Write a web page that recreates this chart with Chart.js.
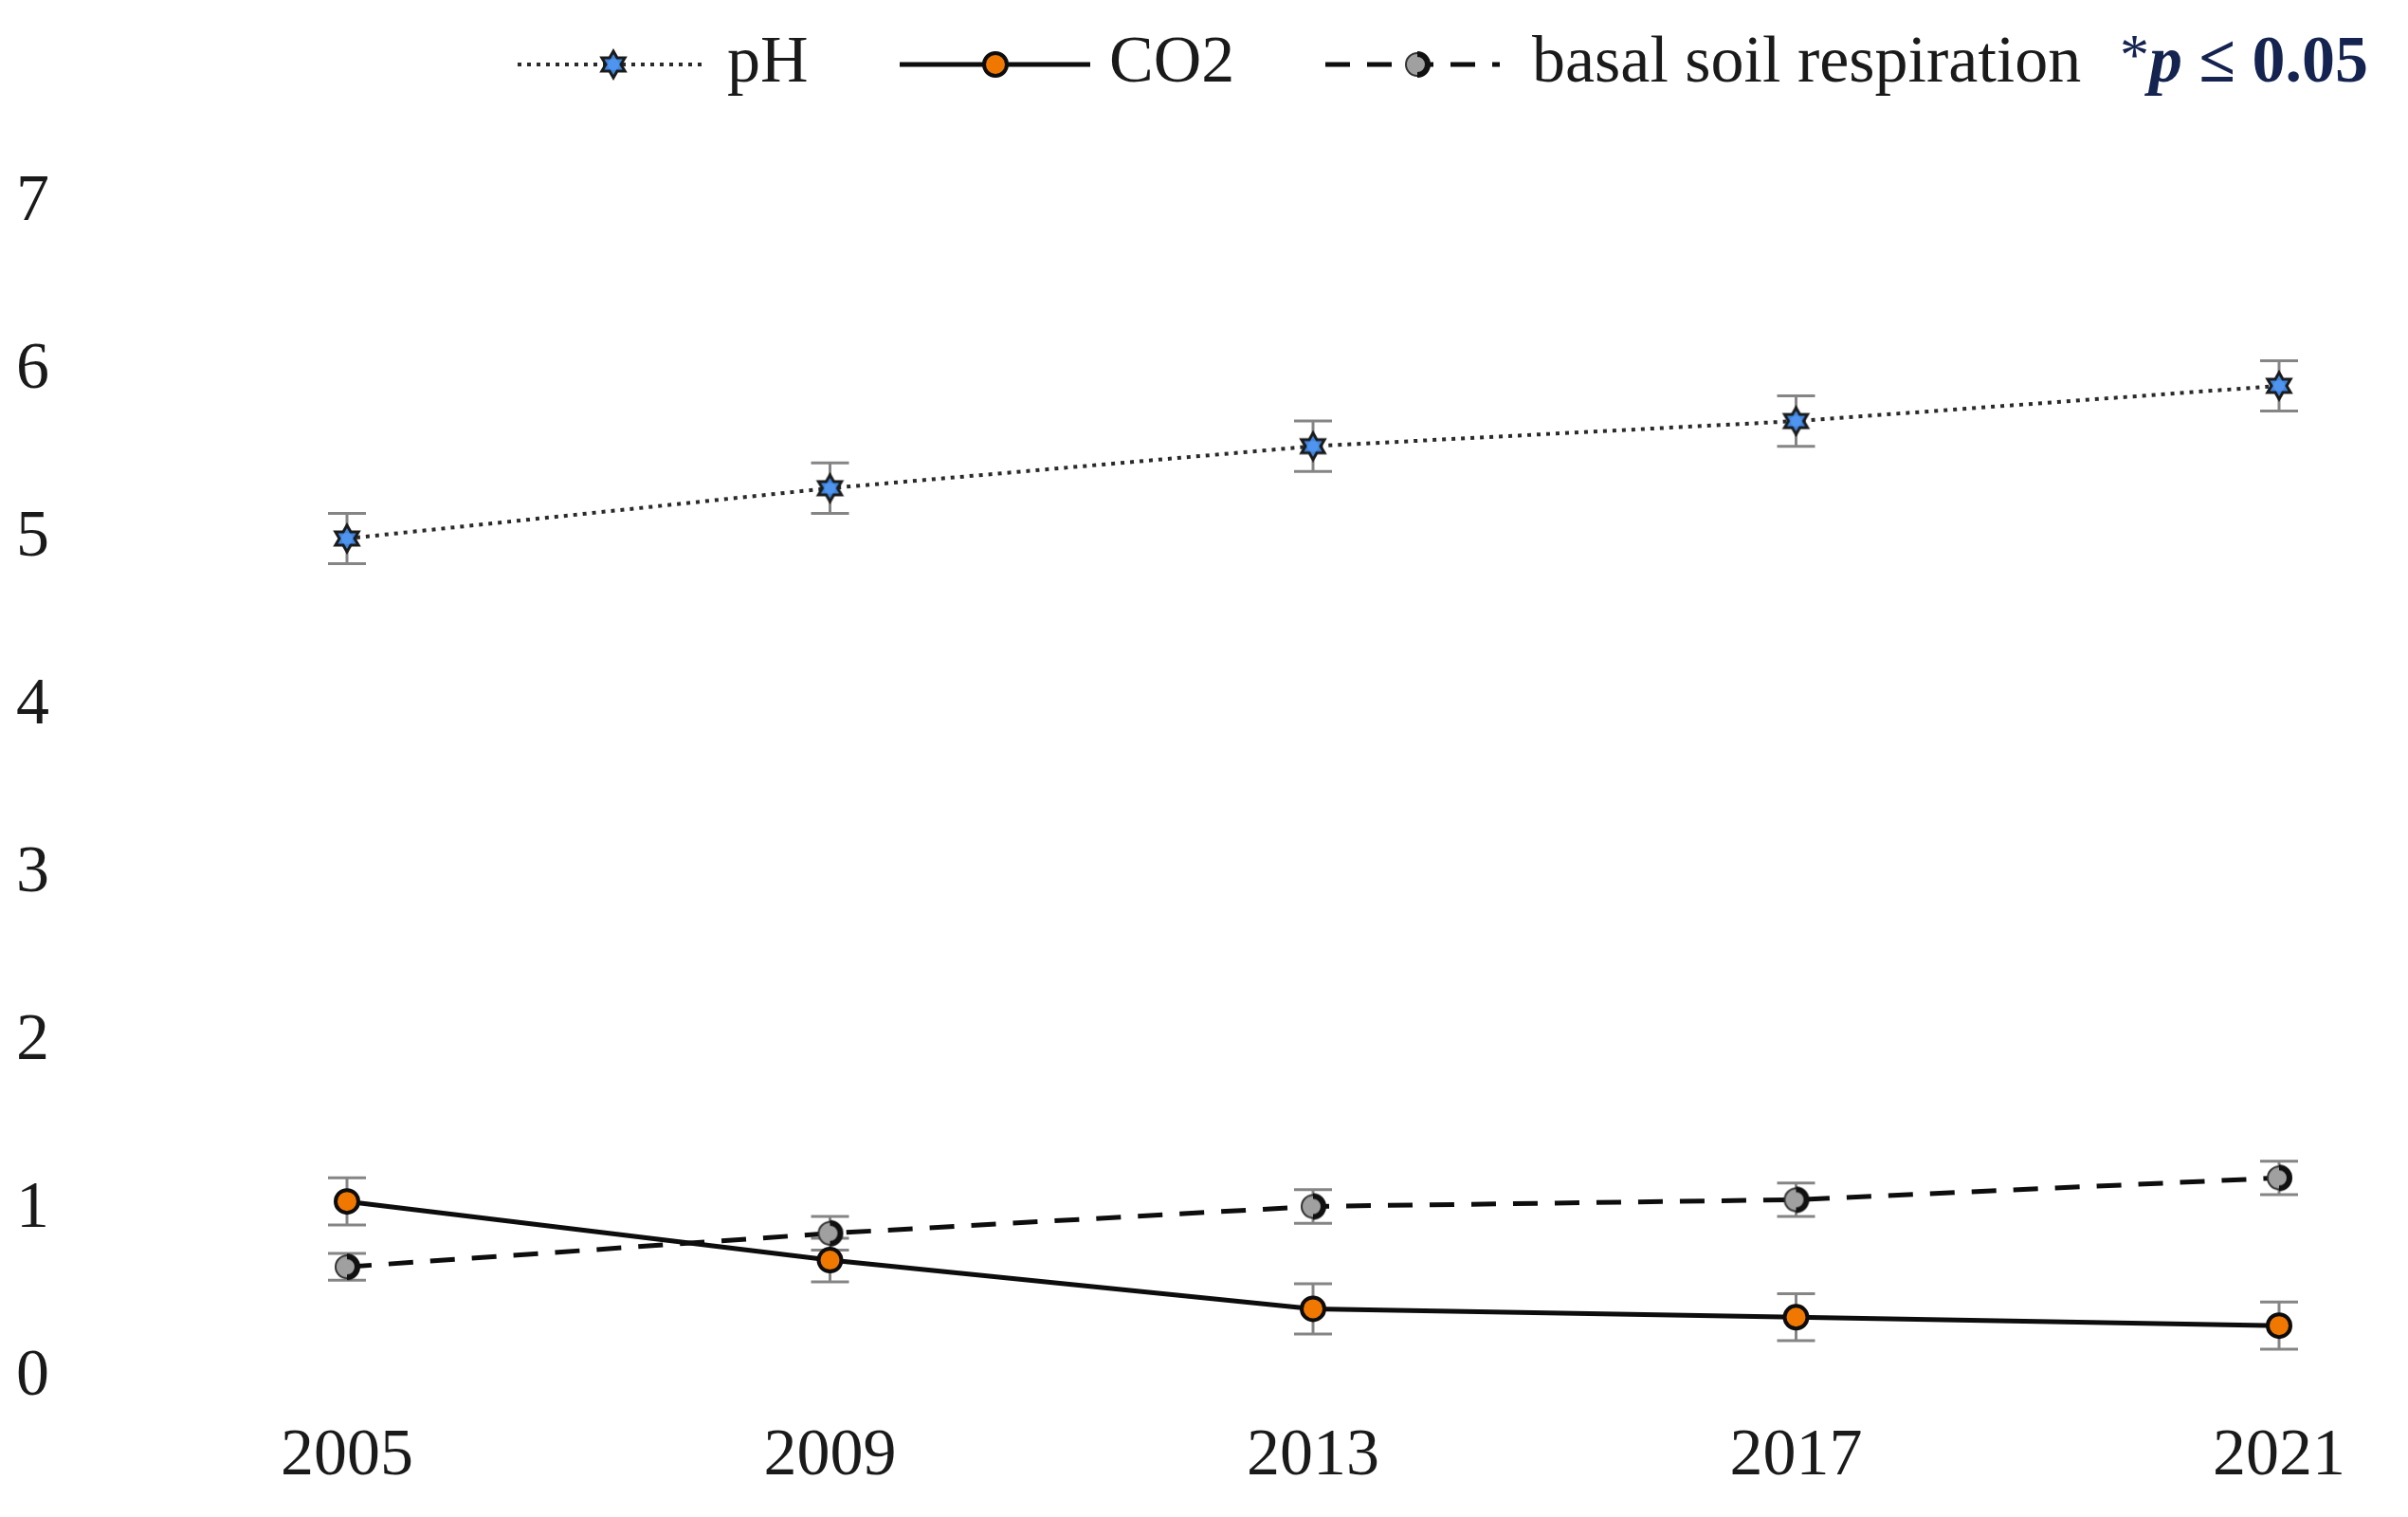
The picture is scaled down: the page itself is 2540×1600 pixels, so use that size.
<!DOCTYPE html>
<html>
<head>
<meta charset="utf-8">
<script src="https://cdn.jsdelivr.net/npm/chart.js@4/dist/chart.umd.min.js"></script>
<style>
html,body{margin:0;padding:0;background:#fff;}
canvas{display:block;}
</style>
</head>
<body>
<canvas id="c" width="2540" height="1600"></canvas>
<script>
// ---- data ----
const years = ['2005', '2009', '2013', '2017', '2021'];
const phValues = [5.00, 5.30, 5.55, 5.70, 5.91];
const phErrors = [0.15, 0.15, 0.15, 0.15, 0.15];
const co2Values = [1.05, 0.70, 0.41, 0.36, 0.31];
const co2Errors = [0.14, 0.13, 0.15, 0.14, 0.14];
const basalValues = [0.66, 0.86, 1.02, 1.06, 1.19];
const basalErrors = [0.08, 0.10, 0.10, 0.10, 0.10];
const yTicks = [0, 1, 2, 3, 4, 5, 6, 7];
const seriesNames = ['pH', 'CO2', 'basal soil respiration'];
const noteText = '*p ≤ 0.05';

const FONT = '"Liberation Serif", "Times New Roman", serif';

// custom point styles
function makeStar() {
  const s = 34, c = document.createElement('canvas');
  c.width = s; c.height = s;
  const g = c.getContext('2d');
  g.translate(s/2, s/2);
  g.beginPath();
  const n = 6, ro = 14, ri = 8;
  for (let i = 0; i < n*2; i++) {
    const r = i % 2 ? ri : ro;
    const a = Math.PI * i / n - Math.PI/2;
    g.lineTo(r*Math.cos(a), r*Math.sin(a));
  }
  g.closePath();
  g.fillStyle = '#3f86e0';
  g.fill();
  g.lineWidth = 3;
  g.strokeStyle = '#1b1b1b';
  g.stroke();
  g.beginPath(); g.arc(0,0,6,0,Math.PI*2); g.fillStyle='#4f94ee'; g.fill();
  return c;
}
function makeHalf() {
  const s = 34, c = document.createElement('canvas');
  c.width = s; c.height = s;
  const g = c.getContext('2d');
  g.translate(s/2, s/2);
  g.beginPath(); g.arc(0,0,12,0,Math.PI*2);
  g.fillStyle = '#a0a0a0'; g.fill();
  g.lineWidth = 2; g.strokeStyle = '#333'; g.stroke();
  g.beginPath(); g.arc(0,0,11,-Math.PI/2,Math.PI/2);
  g.lineWidth = 6; g.strokeStyle = '#111'; g.stroke();
  return c;
}
const starImg = makeStar();
const halfImg = makeHalf();

const errorSets = [phErrors, co2Errors, basalErrors];

const errorBarPlugin = {
  id: 'errorBars',
  beforeDatasetsDraw(chart) {
    const ctx = chart.ctx;
    const ys = chart.scales.y;
    ctx.save();
    ctx.strokeStyle = '#858585';
    ctx.lineWidth = 3;
    chart.data.datasets.forEach((ds, di) => {
      const meta = chart.getDatasetMeta(di);
      const errs = errorSets[di];
      meta.data.forEach((pt, i) => {
        const v = ds.data[i], e = errs[i];
        const x = pt.x;
        const yt = ys.getPixelForValue(v + e);
        const yb = ys.getPixelForValue(v - e);
        ctx.beginPath();
        ctx.moveTo(x, yt); ctx.lineTo(x, yb);
        ctx.moveTo(x - 20, yt); ctx.lineTo(x + 20, yt);
        ctx.moveTo(x - 20, yb); ctx.lineTo(x + 20, yb);
        ctx.stroke();
      });
    });
    ctx.restore();
  }
};

const legendPlugin = {
  id: 'customLegend',
  afterDraw(chart) {
    const ctx = chart.ctx;
    const y = 68;
    const items = [
      {x0: 546, x1: 744, mx: 647, tx: 767, ds: 0},
      {x0: 949, x1: 1150, mx: 1050, tx: 1170, ds: 1},
      {x0: 1398, x1: 1582, mx: 1495, tx: 1616, ds: 2}
    ];
    ctx.save();
    items.forEach(it => {
      const ds = chart.data.datasets[it.ds];
      ctx.beginPath();
      ctx.setLineDash(ds.borderDash || []);
      ctx.strokeStyle = ds.borderColor;
      ctx.lineWidth = ds.borderWidth;
      ctx.moveTo(it.x0, y); ctx.lineTo(it.x1, y);
      ctx.stroke();
      ctx.setLineDash([]);
      const ps = ds.pointStyle;
      if (ps instanceof HTMLCanvasElement) {
        ctx.drawImage(ps, it.mx - ps.width/2, y - ps.height/2);
      } else {
        ctx.beginPath();
        ctx.arc(it.mx, y, ds.pointRadius, 0, Math.PI*2);
        ctx.fillStyle = ds.pointBackgroundColor; ctx.fill();
        ctx.lineWidth = ds.pointBorderWidth; ctx.strokeStyle = ds.pointBorderColor; ctx.stroke();
      }
      ctx.fillStyle = '#1a1a1a';
      ctx.font = '70px ' + FONT;
      ctx.textBaseline = 'middle';
      ctx.textAlign = 'left';
      ctx.fillText(ds.label, it.tx, y);
    });
    // significance note
    const parts = noteText.split('p');
    let x = 2236;
    ctx.fillStyle = '#14234f';
    ctx.textBaseline = 'middle';
    ctx.font = '62px ' + FONT;
    ctx.fillText(parts[0], x, y - 6);
    x += ctx.measureText(parts[0]).width;
    ctx.font = 'italic bold 70px ' + FONT;
    ctx.fillText('p', x, y);
    x += ctx.measureText('p').width;
    ctx.font = 'bold 70px ' + FONT;
    ctx.fillText(parts[1], x, y);
    ctx.restore();
  }
};

Chart.defaults.font.family = FONT;
Chart.defaults.color = '#1a1a1a';

new Chart(document.getElementById('c'), {
  type: 'line',
  data: {
    labels: years,
    datasets: [
      {
        label: seriesNames[0],
        data: phValues,
        borderColor: '#2a2a2a',
        borderWidth: 4,
        borderDash: [4, 6],
        pointStyle: starImg,
        pointRadius: 14,
        fill: false,
        tension: 0
      },
      {
        label: seriesNames[1],
        data: co2Values,
        borderColor: '#0d0d0d',
        borderWidth: 5,
        pointStyle: 'circle',
        pointRadius: 12,
        pointBackgroundColor: '#f07800',
        pointBorderColor: '#0d0d0d',
        pointBorderWidth: 4,
        fill: false,
        tension: 0
      },
      {
        label: seriesNames[2],
        data: basalValues,
        borderColor: '#0d0d0d',
        borderWidth: 5,
        borderDash: [26, 18],
        pointStyle: halfImg,
        pointRadius: 13,
        fill: false,
        tension: 0
      }
    ]
  },
  options: {
    responsive: false,
    devicePixelRatio: 1,
    animation: false,
    layout: { padding: { left: 17, right: 136, top: 214, bottom: 0 } },
    plugins: { legend: { display: false }, tooltip: { enabled: false } },
    scales: {
      x: {
        offset: false,
        grid: { display: false, drawTicks: false },
        border: { display: false },
        ticks: { font: { size: 70 }, color: '#1a1a1a', padding: 42, maxRotation: 0 },
        afterFit(scale) { scale.height = 147; }
      },
      y: {
        min: 0, max: 7,
        grid: { display: false, drawTicks: false },
        border: { display: false },
        afterBuildTicks(scale) { scale.ticks = yTicks.map(v => ({ value: v })); },
        ticks: { font: { size: 70 }, color: '#1a1a1a', crossAlign: 'far', padding: 0 },
        afterFit(scale) { scale.width = 349; }
      }
    }
  },
  plugins: [errorBarPlugin, legendPlugin]
});
</script>
</body>
</html>
